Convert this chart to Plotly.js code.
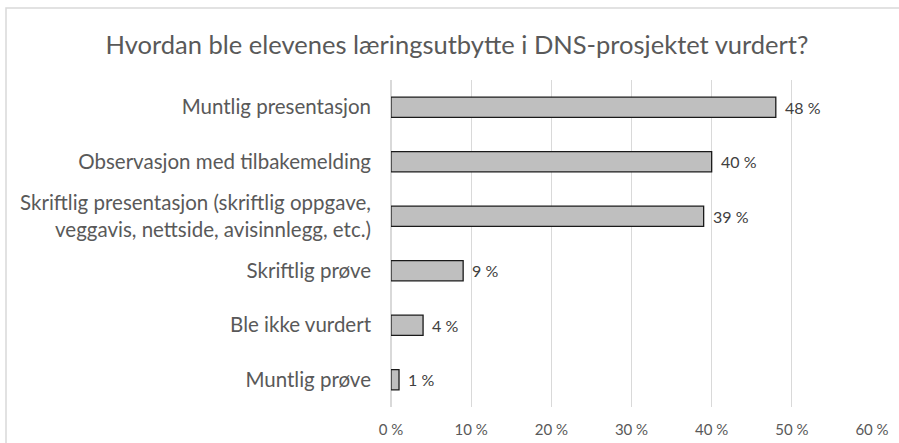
<!DOCTYPE html>
<html>
<head>
<meta charset="utf-8">
<script src="https://cdn.plot.ly/plotly-3.0.1.min.js"></script>
<style>html,body{margin:0;padding:0;background:#fff;}#chart{width:899px;height:443px;}</style>
</head>
<body>
<div id="chart"></div>
<script>
const categories = [
  "Muntlig presentasjon",
  "Observasjon med tilbakemelding",
  "Skriftlig presentasjon (skriftlig oppgave,<br>veggavis, nettside, avisinnlegg, etc.)",
  "Skriftlig prøve",
  "Ble ikke vurdert",
  "Muntlig prøve"
];
const values = [48, 40, 39, 9, 4, 1];
const tickVals = [0, 10, 20, 30, 40, 50, 60];
const tickText = ["0 %", "10 %", "20 %", "30 %", "40 %", "50 %", "60 %"];
const titleText = "Hvordan ble elevenes læringsutbytte i DNS-prosjektet vurdert?";

const W = 899, H = 443;
const mL = 391, mR = 27, mT = 80, mB = 36;
const pw = W - mL - mR, ph = H - mT - mB;
const FONT = "Lato, 'Open Sans', sans-serif";

const annotations = values.map((v, i) => ({
  x: v, y: categories[i], xref: 'x', yref: 'y',
  text: v + ' %', showarrow: false, xanchor: 'left', xshift: 7,
  font: {family: FONT, size: 16, color: '#404040'}
}));

const shapes = [{
  type: 'rect', xref: 'paper', yref: 'paper', layer: 'below',
  x0: (6 - mL) / pw, x1: (W + 10 - mL) / pw,
  y0: -(mB + 10) / ph, y1: 1 + (mT - 8) / ph,
  line: {color: '#d9d9d9', width: 1.5}, fillcolor: 'rgba(0,0,0,0)'
}];

Plotly.newPlot('chart', [{
  type: 'bar', orientation: 'h',
  x: values, y: categories,
  marker: {color: '#bfbfbf', line: {color: '#1a1a1a', width: 1.3}},
  hoverinfo: 'none'
}], {
  width: W, height: H,
  margin: {l: mL, r: mR, t: mT, b: mB, pad: 0},
  paper_bgcolor: '#fff', plot_bgcolor: '#fff',
  showlegend: false,
  bargap: 0.63,
  title: {text: titleText, x: 457 / W, xref: 'container', xanchor: 'center', y: 1 - 45 / H, yref: 'container', yanchor: 'middle',
          font: {family: FONT, size: 25.5, color: '#595959'}},
  xaxis: {
    range: [0, 60], tickvals: tickVals, ticktext: tickText,
    showgrid: true, gridcolor: '#d9d9d9', gridwidth: 1.3,
    zeroline: true, zerolinecolor: '#d9d9d9', zerolinewidth: 1.3,
    showline: false, ticks: '', ticklabelstandoff: 12,
    tickfont: {family: FONT, size: 15, color: '#595959'},
    fixedrange: true
  },
  yaxis: {
    type: 'category', autorange: 'reversed',
    showgrid: false, zeroline: false, showline: false, ticks: '',
    ticklabelstandoff: 19,
    tickfont: {family: FONT, size: 20.5, color: '#595959'},
    fixedrange: true
  },
  annotations: annotations,
  shapes: shapes
}, {staticPlot: true, displayModeBar: false});
</script>
</body>
</html>
